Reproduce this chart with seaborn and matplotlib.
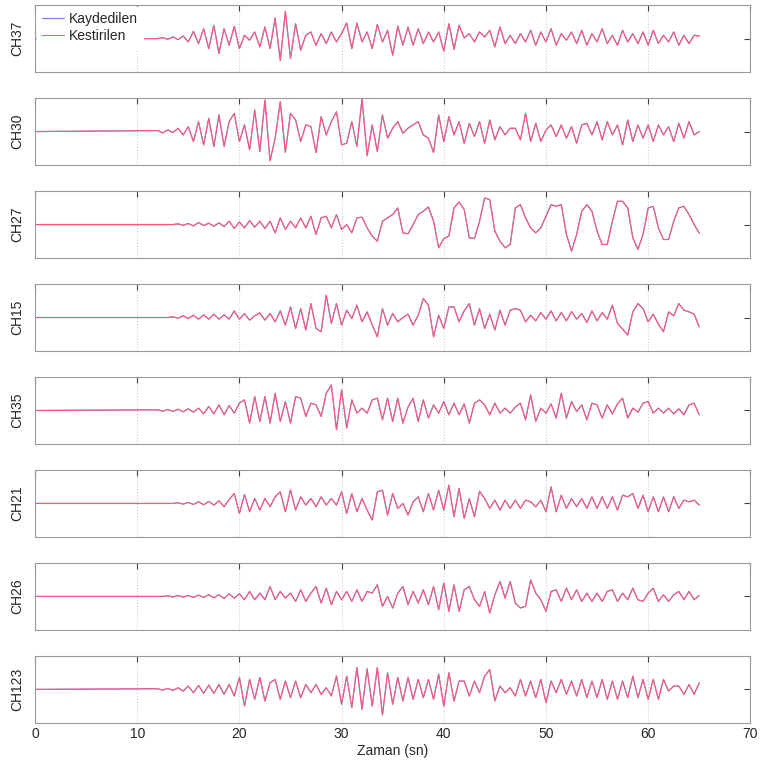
import numpy as np
import pandas as pd
import matplotlib
matplotlib.use("Agg")
import matplotlib.pyplot as plt
import seaborn as sns

# channel names, top to bottom
channels = ["CH37", "CH30", "CH27", "CH15", "CH35", "CH21", "CH26", "CH123"]

t_start = 12.0
t_step = 0.5

ch37 = [0, 0.03, -0.02, 0.05, -0.03, 0.08, -0.1, 0.22, -0.15, 0.3,
        -0.3, 0.4, -0.45, 0.3, -0.2, 0.37, -0.3, 0.1, -0.05, 0.2,
        -0.25, 0.35, -0.3, 0.62, -0.66, 0.82, -0.6, 0.45, -0.35, 0.1,
        0.2, -0.2, 0.15, -0.15, 0.2, -0.1, 0.15, 0.47, -0.3, 0.47,
        -0.1, 0.2, -0.3, 0.43, -0.1, 0.25, -0.5, 0.38, -0.2, 0.35,
        -0.2, 0.3, -0.15, 0.2, -0.1, 0.2, -0.37, 0.45, -0.32, 0.4,
        0.02, 0.15, -0.1, 0.2, 0.05, 0.25, -0.25, 0.35, -0.15, 0.1,
        -0.15, 0.15, -0.1, 0.25, -0.2, 0.2, -0.1, 0.3, -0.2, 0.15,
        -0.05, 0.2, -0.15, 0.25, -0.2, 0.15, -0.1, 0.3, -0.15, 0.1,
        -0.2, 0.25, -0.1, 0.15, -0.15, 0.2, -0.2, 0.25, -0.15, 0.1,
        -0.1, 0.2, -0.2, 0.1, -0.15, 0.1, 0.08]

ch30 = [0.03, -0.04, 0.05, -0.03, 0.1, -0.1, 0.15, -0.3, 0.3, -0.4,
        0.4, -0.45, 0.5, -0.45, 0.3, 0.55, -0.3, 0.2, -0.55, 0.65,
        -0.6, 0.95, -0.88, -0.2, 0.9, -0.63, 0.55, 0.35, -0.3, 0.2,
        0.15, -0.63, 0.45, -0.1, 0.3, 0.6, -0.4, -0.35, 0.3, -0.45,
        1.0, -0.73, 0.2, -0.6, 0.5, -0.2, 0.1, 0.3, -0.05, 0.1,
        0.2, 0.3, -0.1, -0.2, -0.63, 0.5, -0.3, 0.45, -0.1, 0.3,
        -0.35, 0.25, -0.15, 0.3, -0.35, 0.35, -0.25, 0.15, -0.1, 0.1,
        0.1, -0.25, 0.55, -0.3, 0.25, -0.3, 0.05, 0.2, -0.15, 0.2,
        -0.2, 0.15, -0.35, 0.2, 0.25, -0.1, 0.3, -0.25, 0.3, -0.1,
        0.2, -0.4, 0.35, -0.3, 0.2, -0.2, 0.2, -0.3, 0.2, -0.1,
        0.15, -0.3, 0.25, -0.2, 0.3, -0.1, 0.0]

ch27 = [0, 0, 0, 0, 0.02, -0.02, 0.03, -0.04, 0.06, -0.03,
        0.04, -0.05, 0.05, -0.06, 0.1, -0.12, 0.08, -0.1, 0.12, -0.08,
        0.1, -0.12, 0.1, -0.25, 0.2, -0.15, 0.1, -0.1, 0.2, -0.1,
        0.25, -0.3, 0.2, 0.25, -0.1, 0.3, -0.15, 0.0, -0.25, 0.2,
        0.22, -0.1, -0.35, -0.5, 0.1, 0.2, 0.3, 0.5, -0.25, -0.28,
        0.0, 0.3, 0.4, 0.53, 0.1, -0.7, -0.42, -0.35, 0.5, 0.68,
        0.45, -0.4, -0.42, 0.1, 0.8, 0.75, -0.2, -0.5, -0.7, -0.6,
        0.5, 0.6, 0.2, -0.1, -0.25, -0.1, 0.25, 0.6, 0.55, 0.6,
        -0.3, -0.8, -0.3, 0.4, 0.6, 0.4, -0.2, -0.6, -0.6, 0.1,
        0.7, 0.7, 0.5, -0.4, -0.75, -0.3, 0.5, 0.55, -0.1, -0.45,
        -0.45, 0.1, 0.5, 0.55, 0.3, 0.0, -0.26]

ch15 = [0, 0, 0, 0.02, -0.02, 0.05, -0.03, 0.07, -0.05, 0.08,
        -0.05, 0.1, -0.05, 0.08, -0.05, 0.2, -0.05, 0.12, -0.08, 0.05,
        0.14, -0.08, 0.12, -0.13, 0.2, -0.23, 0.32, -0.33, 0.27, -0.38,
        0.42, -0.33, -0.43, 0.67, -0.18, 0.42, -0.23, 0.22, -0.03, 0.37,
        -0.13, 0.17, -0.23, -0.58, 0.27, -0.23, 0.12, -0.13, 0.0, 0.1,
        -0.23, 0.07, 0.57, 0.37, -0.58, 0.07, -0.33, 0.32, 0.32, -0.13,
        0.2, 0.42, -0.23, 0.27, -0.33, 0.1, -0.38, 0.22, -0.23, 0.22,
        0.27, 0.22, -0.13, 0.07, -0.1, 0.15, -0.05, 0.2, -0.1, 0.15,
        -0.1, 0.18, -0.05, 0.12, -0.15, 0.2, -0.1, 0.15, -0.05, 0.37,
        -0.18, -0.35, -0.53, 0.17, 0.42, 0.27, -0.13, 0.1, -0.2, -0.43,
        0.17, 0.05, 0.42, 0.22, 0.17, 0.1, -0.28]

ch35 = [0.02, -0.02, 0.03, -0.03, 0.04, -0.04, 0.05, -0.05, 0.07, -0.1,
        0.12, -0.1, 0.17, -0.13, 0.15, -0.08, 0.22, 0.32, -0.38, 0.42,
        -0.33, 0.42, -0.38, 0.52, -0.33, 0.27, -0.38, 0.42, 0.37, -0.18,
        0.22, 0.17, -0.18, 0.52, 0.77, -0.58, 0.62, -0.53, 0.32, -0.08,
        0.07, -0.08, 0.32, 0.37, -0.28, 0.37, -0.33, 0.37, -0.38, 0.1,
        0.37, -0.33, 0.32, -0.23, 0.17, -0.08, 0.27, -0.13, 0.22, -0.13,
        0.2, -0.38, 0.22, 0.32, 0.17, -0.13, 0.22, -0.08, 0.07, -0.08,
        0.1, 0.22, -0.28, 0.47, -0.33, 0.07, -0.08, 0.2, -0.23, 0.52,
        -0.23, 0.27, -0.03, 0.17, -0.28, 0.22, 0.17, -0.23, 0.17, -0.1,
        0.2, 0.37, -0.23, 0.07, -0.05, 0.22, 0.27, -0.08, 0.07, -0.08,
        0.07, -0.1, 0.05, -0.13, 0.17, 0.22, -0.13]

ch21 = [0, 0, 0, 0, 0.02, -0.02, 0.03, -0.03, 0.05, -0.04,
        0.06, -0.05, 0.08, -0.1, 0.12, 0.3, -0.3, 0.27, -0.25, 0.15,
        -0.2, 0.15, -0.1, 0.2, 0.35, -0.25, 0.4, -0.2, 0.2, -0.05,
        0.15, -0.1, 0.2, -0.05, 0.15, -0.05, 0.35, -0.3, 0.3, -0.25,
        0.15, -0.2, -0.5, 0.35, 0.4, -0.35, 0.3, -0.15, 0.0, -0.35,
        0.05, 0.2, -0.25, 0.3, -0.2, 0.4, -0.2, 0.55, -0.4, 0.45,
        -0.45, 0.15, -0.4, 0.37, 0.15, -0.15, 0.1, -0.2, 0.1, -0.15,
        0.1, -0.15, 0.1, 0.05, -0.1, 0.1, -0.25, 0.5, -0.25, 0.25,
        -0.15, 0.15, -0.1, 0.15, -0.15, 0.2, -0.15, 0.2, -0.15, 0.2,
        -0.2, 0.25, 0.2, 0.3, -0.15, 0.25, -0.25, 0.2, -0.25, 0.2,
        -0.25, 0.2, -0.15, 0.1, 0.05, 0.1, -0.05]

ch26 = [0, 0, 0.02, -0.02, 0.03, -0.02, 0.03, -0.03, 0.04, -0.03,
        0.05, -0.04, 0.05, -0.06, 0.08, -0.05, 0.08, -0.1, 0.15, -0.1,
        0.1, -0.1, 0.3, -0.1, 0.15, -0.05, 0.1, -0.15, 0.2, -0.15,
        0.1, 0.3, -0.2, 0.25, -0.25, 0.15, -0.1, 0.15, -0.15, 0.2,
        -0.15, 0.15, 0.1, 0.35, -0.3, 0.0, -0.35, 0.1, 0.3, -0.25,
        0.15, -0.2, 0.2, -0.25, 0.3, -0.4, 0.4, -0.45, 0.35, -0.45,
        0.2, 0.3, -0.1, -0.3, 0.15, -0.5, 0.05, 0.45, -0.05, 0.45,
        -0.2, -0.35, -0.3, 0.5, 0.1, -0.1, -0.45, 0.15, 0.2, -0.15,
        0.25, -0.1, 0.2, -0.15, 0.1, -0.15, 0.1, -0.15, 0.15, 0.2,
        -0.15, 0.1, -0.1, 0.25, -0.1, -0.15, 0.1, 0.25, -0.15, 0.05,
        -0.15, 0.05, 0.15, -0.1, 0.15, -0.1, 0.03]

ch123 = [0.02, -0.02, 0.03, -0.03, 0.05, -0.05, 0.1, -0.1, 0.12, -0.12,
         0.13, -0.12, 0.15, -0.15, 0.15, -0.2, 0.36, -0.5, 0.3, -0.3,
         0.36, -0.35, 0.2, 0.3, -0.3, 0.25, -0.25, 0.25, -0.25, 0.15,
         -0.1, 0.15, -0.15, 0.05, -0.2, 0.4, -0.45, 0.4, -0.55, 0.66,
         -0.6, 0.62, -0.5, 0.66, -0.77, 0.5, -0.45, 0.36, -0.35, 0.36,
         -0.3, 0.3, -0.25, 0.3, -0.3, 0.46, -0.5, 0.5, -0.35, 0.25,
         0.25, -0.2, 0.25, -0.1, 0.4, 0.6, -0.35, 0.1, -0.1, 0.05,
         -0.2, 0.3, -0.2, 0.25, -0.25, 0.3, -0.4, 0.25, -0.1, 0.3,
         -0.15, 0.25, -0.2, 0.3, -0.25, 0.25, -0.25, 0.3, -0.3, 0.25,
         -0.3, 0.25, -0.25, 0.4, -0.25, 0.3, -0.3, 0.3, -0.3, 0.3,
         -0.05, 0.1, 0.1, -0.15, 0.15, -0.15, 0.2]

signals = [ch37, ch30, ch27, ch15, ch35, ch21, ch26, ch123]

x_ticks = [0, 10, 20, 30, 40, 50, 60, 70]


# plot style
sns.set_style("white")
plt.rcParams["font.family"] = ["Liberation Sans", "DejaVu Sans"]

fig, axes = plt.subplots(8, 1, figsize=(7.61, 7.72), dpi=100, sharex=True)
fig.subplots_adjust(left=0.046, right=0.986, top=0.993, bottom=0.064, hspace=0.4)

for i, ax in enumerate(axes):
    vals = signals[i]
    t = t_start + t_step * np.arange(len(vals))
    df = pd.DataFrame({
        "t": np.concatenate([[0.0], t]),
        "v": np.concatenate([[0.0], vals]),
    })

    # recorded (blue) under predicted (red)
    sns.lineplot(data=df, x="t", y="v", ax=ax, color="#8080ff",
                 linewidth=0.9, label="Kaydedilen", legend=False)
    sns.lineplot(data=df, x="t", y="v", ax=ax, color="#ff5a68",
                 linewidth=0.75, label="Kestirilen", legend=False)

    ax.set_xlim(0, 70)
    ax.set_ylim(-1, 1)
    ax.set_xticks(x_ticks)
    ax.set_yticks([0])
    ax.set_yticklabels([])
    ax.set_ylabel(channels[i], fontsize=10, labelpad=4)
    ax.set_xlabel("")
    ax.grid(axis="x", linestyle=":", color="#cfcfcf", linewidth=0.8)
    ax.tick_params(direction="in", top=True, right=True, length=4,
                   color="#444444", labelsize=10)
    for s in ax.spines.values():
        s.set_color("#9a9a9a")
        s.set_linewidth(0.8)

axes[0].legend(loc="upper left", fontsize=10, frameon=True, facecolor="white",
               edgecolor="white", framealpha=1, handlelength=1.6,
               borderaxespad=0.12, borderpad=0.35, labelspacing=0.2,
               handletextpad=0.4)

axes[-1].set_xlabel("Zaman (sn)", fontsize=10, labelpad=2)

plt.savefig("out.png", dpi=100)
